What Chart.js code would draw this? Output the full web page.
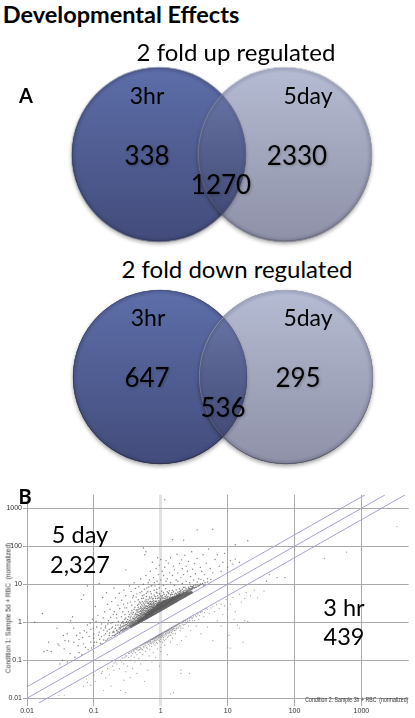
<!DOCTYPE html>
<html>
<head>
<meta charset="utf-8">
<title>Developmental Effects</title>
<script src="https://cdn.jsdelivr.net/npm/chart.js@4"></script>
<style>
  html, body { margin: 0; padding: 0; background: #fff; }
  #page { position: relative; width: 415px; height: 718px; overflow: hidden; font-family: Lato, sans-serif; color: #000; }
  #page canvas { position: absolute; left: 0; }
  .lbl { position: absolute; white-space: nowrap; transform: translate(-50%, -50%); line-height: 1; }
  .num { text-shadow: 1px 1px 3px rgba(0,0,0,.25); }
  .bold { font-weight: 700; }
  #scatterChart { filter: blur(.45px); }
  .axisName { position: absolute; white-space: pre; font: 6.6px "Liberation Sans", sans-serif; color: #333; filter: blur(.3px); }
</style>
</head>
<body>
<div id="page">
  <canvas id="vennUp" width="415" height="189" style="top:60px;width:415px;height:189px"></canvas>
  <canvas id="vennDown" width="415" height="188" style="top:283px;width:415px;height:188px"></canvas>
  <canvas id="scatterChart" width="415" height="238" style="top:480px;width:415px;height:238px"></canvas>
</div>
<script>
/* Venn counts */
const vennSets = ['3hr', '5day'];
const upCounts = [338, 1270, 2330];
const downCounts = [647, 536, 295];
const scatterSides = ['5 day', '3 hr'];
const scatterCounts = ['2,327', '439'];

/* log plot */
const axisTicks = [0.01, 0.1, 1, 10, 100, 1000];
const foldLevels = [2, 1, 0.5];

// sparse spots above the 2 fold line
const upperSparse = [
  [.013,1],[.017,1.7],[.018,.17],[.02,.18],[.021,.3],[.023,.17],[.028,.7],[.029,.27],[.03,.25],[.031,.08],[.034,.1],[.036,.2],[.037,.33],[.04,.09],[.04,.5],[.042,.32],[.045,1.1],[.048,1.4],[.05,.3],[.052,.12],[.055,.45],[.06,.16],[.06,.35],[.062,.52],[.065,4],[.068,.4],[.07,.27],[.07,5.2],[.075,.22],[.078,.55],[.08,.85],[.08,9],[.085,.42],[.09,.3],[.09,.65],[.095,1.2],[.1,.24],[.1,.5],[.1,.38],[.105,2.6],[.11,.75],[.11,.3],[.115,1.5],[.12,.55],[.12,10.5],[.125,.28],[.13,.42],[.13,.9],[.135,4.5],[.14,.62],[.14,.34],[.145,1.9],[.15,.5],[.15,.8],[.155,6],[.16,.36],[.16,3],[.165,1.1],[.17,.45],[.17,.65],[.175,2.2],[.18,.4],[.18,.95],[.185,3.5],[.19,.55],[.19,.75],[.195,1.6],[.2,8],[.21,.48],[.21,4.4],[.22,.6],[.22,1.3],[.23,2.8],[.24,.52],[.24,5.8],[.25,.75],[.26,3.8],[.27,1.9],[.28,7],[.29,2.4],[.3,24],[.3,5],[.32,3.2],[.34,9],[.36,6.5],[.38,4.4],[.4,11],[.42,7.8],[.44,5.6],[.47,8.6],[.5,14],[.52,6.4],[.55,90],[.55,10],[.58,60],[.6,72],[.6,17],[.62,8],[.65,11],[.68,13],[.7,22],[.72,9],[.75,38],[.78,15],[.8,11],[.85,26],[.88,12],[.9,50],[.92,18],[.95,32],[1,13],[1,45],[1.05,22],[1.1,17],[1.15,1680],[1.15,28],[1.2,42],[1.25,14],[1.3,36],[1.35,20],[1.4,50],[1.5,150],[1.5,17],[1.55,30],[1.6,24],[1.7,13],[1.75,62],[1.8,20],[1.9,35],[2,15],[2.05,44],[2.1,26],[2.2,145],[2.2,18],[2.3,58],[2.4,30],[2.5,22],[2.6,40],[2.8,16],[2.9,72],[3,25],[3.2,35],[3.3,19],[3.5,270],[3.5,48],[3.7,14],[3.9,28],[4.1,22],[4.3,60],[4.5,18],[4.8,36],[5,14],[5.2,85],[5.5,26],[6,280],[6,20],[6.5,45],[7,60],[7.5,30],[8,22],[8.5,38],[9,65],[10,28],[11,42],[12,34],[13,110],[13,46],[15,38],[20,140],[38,12],[42,18],[55,15],[72,15],
  [.035,.45],[.044,.15],[.05,.7],[.058,.24],[.066,.14],[.072,.6],[.082,.19],[.088,.95],[.092,.21],[.098,.7],[.102,.3],[.108,1.05],[.118,.46],[.122,.36],[.128,.7],[.132,.27],[.138,1.3],[.142,.46],[.148,.72],[.152,.33],[.158,.58],[.162,.9],[.168,.38],[.172,.52],[.178,1.35],[.182,.7],[.188,.44],[.192,.98],[.198,.58],[.202,1.9],[.206,.44],[.212,.84],[.218,1.6],[.226,.52],[.232,1.05],[.238,.66],[.244,2.3],[.252,.56],[.258,1.4],[.264,.62],[.272,1.05],[.278,3],[.285,.64],[.292,1.6],[.298,.7],[.31,2.4],[.33,1.9],[.35,3.4],[.37,2.8],[.39,5],[.41,3.5],[.43,4.6],[.46,3.9],[.49,6],[.53,5],[.57,7.4],[.61,5.8],[.66,8.4],[.7,6.4],[.74,9.4],[.82,9],[.87,7.4],[.94,10],[1.1,9.4],[1.2,12],[1.4,11],[1.6,9.4],[1.8,12],[2.1,10.5],[2.4,12],[2.7,11],[3.1,13],[3.5,11.5],[4,13.5],[4.4,12.5],[5,11.5],[5.6,13.5]
];

// thicker cloud right above the line
const upperMid = [
  [.2,.45],[.2,.55],[.21,.7],[.22,.5],[.22,.62],[.23,.85],[.24,.55],[.25,.6],[.25,.68],[.26,.95],[.27,.58],[.27,.78],[.28,.62],[.28,.7],[.29,1.2],[.3,.66],[.3,.74],[.3,.88],[.31,.68],[.31,1.05],[.32,.7],[.32,.82],[.33,1.4],[.33,.74],[.34,.76],[.34,.92],[.35,.78],[.35,.86],[.35,1.15],[.36,1.75],[.36,.8],[.37,.84],[.37,.98],[.38,.86],[.38,1.3],[.38,.94],[.39,1.08],[.4,.88],[.4,.96],[.4,1.22],[.4,2.2],[.41,1.02],[.41,1.55],[.42,.92],[.42,1.12],[.43,1],[.43,1.35],[.44,.98],[.44,1.85],[.44,1.08],[.45,1.02],[.45,1.25],[.45,2.8],[.46,1.1],[.46,1.5],[.47,1.05],[.47,1.18],[.47,2.2],[.48,1.08],[.48,1.32],[.48,3.4],[.49,1.16],[.49,1.7],[.5,1.1],[.5,1.24],[.5,1.42],[.5,2.6],[.51,1.14],[.51,1.95],[.52,1.2],[.52,1.55],[.52,4.2],[.53,1.18],[.53,1.3],[.54,1.24],[.54,2.3],[.55,1.22],[.55,1.4],[.55,1.75],[.55,3.2],[.56,1.26],[.56,5.2],[.57,1.3],[.57,1.6],[.58,1.28],[.58,2.05],[.59,1.36],[.6,1.32],[.6,1.5],[.6,2.7],[.6,3.9],[.61,1.4],[.61,1.85],[.62,1.36],[.62,1.62],[.63,2.3],[.63,1.46],[.64,1.44],[.64,6.4],[.65,1.5],[.65,1.75],[.65,3.1],[.66,1.48],[.66,2.05],[.67,1.58],[.68,1.54],[.68,2.6],[.68,4.6],[.69,1.62],[.7,1.58],[.7,1.86],[.7,3.6],[.71,2.25],[.72,1.64],[.72,1.74],[.72,5.6],[.73,2.9],[.74,1.7],[.74,2],[.75,1.78],[.75,2.45],[.75,4.1],[.76,1.76],[.77,1.9],[.78,1.82],[.78,2.2],[.78,3.2],[.8,1.85],[.8,2.02],[.8,2.7],[.8,7],[.82,1.92],[.82,4.8],[.83,2.15],[.84,1.98],[.84,3.6],[.85,2.08],[.85,2.4],[.86,2.02],[.87,3],[.88,2.1],[.88,2.26],[.88,5.8],[.9,2.14],[.9,2.6],[.9,4.2],[.92,2.2],[.92,2.38],[.93,3.3],[.94,2.26],[.95,2.85],[.95,8],[.96,2.3],[.97,2.52],[.98,2.34],[.98,3.8],[1,2.38],[1,2.65],[1,3.1],[1,5],[1.02,2.44],[1.03,6.6],[1.05,2.5],[1.05,2.82],[1.05,4.2],[1.08,2.58],[1.08,3.4],[1.1,2.62],[1.1,3],[1.12,5.4],[1.13,2.72],[1.15,2.78],[1.15,3.7],[1.18,2.84],[1.18,7.6],[1.2,2.92],[1.2,3.25],[1.2,4.6],[1.23,3],[1.25,3.08],[1.25,3.9],[1.28,3.16],[1.3,3.24],[1.3,3.6],[1.3,6],[1.33,3.32],[1.35,3.42],[1.35,4.4],[1.38,3.5],[1.4,3.58],[1.4,3.95],[1.4,5.2],[1.44,3.66],[1.47,3.76],[1.5,3.86],[1.5,4.3],[1.5,7],[1.54,3.96],[1.58,4.06],[1.6,4.16],[1.6,4.8],[1.65,4.26],[1.7,4.38],[1.7,5.6],[1.75,4.5],[1.8,4.62],[1.8,5.1],[1.85,4.74],[1.9,4.86],[1.9,6.4],[1.95,5],[2,5.14],[2,5.7],[2.05,5.28],[2.1,5.4],[2.1,7.4],[2.15,5.54],[2.2,5.68],[2.2,6.2],[2.3,5.9],[2.3,8.4],[2.4,6.1],[2.4,6.8],[2.5,6.4],[2.6,6.6],[2.6,7.6],[2.7,6.8],[2.8,7.1],[2.8,8.8],[2.9,7.3],[3,7.6],[3,8.2],[3.2,8],[3.3,9.6],[3.4,8.4],[3.6,8.8],[3.8,9.4],[4,9.8],[4.2,10.5],[4.6,11],
  [.23,.56],[.24,.72],[.25,.85],[.26,.62],[.26,.75],[.27,.66],[.27,1],[.28,.8],[.28,.92],[.29,.68],[.29,.82],[.3,.98],[.3,1.3],[.31,.76],[.31,.86],[.32,.94],[.32,1.18],[.33,.84],[.33,1.02],[.34,.84],[.34,1.1],[.34,1.6],[.35,.96],[.35,1.32],[.36,.9],[.36,1.05],[.36,1.45],[.37,.92],[.37,1.15],[.37,2],[.38,1.04],[.38,1.62],[.39,.95],[.39,1.26],[.39,1.8],[.4,1.08],[.4,1.4],[.41,.94],[.41,1.2],[.41,2.5],[.42,1.04],[.42,1.3],[.42,1.7],[.43,1.12],[.43,1.58],[.43,2.1],[.44,1.2],[.44,1.42],[.45,1.12],[.45,1.6],[.45,2.1],[.46,1.2],[.46,1.35],[.46,1.85],[.46,2.5],[.47,1.3],[.47,1.52],[.47,3],[.48,1.2],[.48,1.46],[.48,1.9],[.49,1.1],[.49,1.28],[.49,1.5],[.49,2.3],[.5,1.32],[.5,1.62],[.5,2],[.5,3.2],[.51,1.26],[.51,1.4],[.51,1.7],[.51,2.4],[.52,1.34],[.52,1.8],[.52,2.2],[.52,2.9],[.53,1.46],[.53,1.62],[.53,2],[.53,3.5],[.54,1.36],[.54,1.5],[.54,1.85],[.54,2.7],[.55,1.3],[.55,1.58],[.55,2.15],[.55,4.3],[.56,1.46],[.56,1.66],[.56,2],[.56,2.5],[.57,1.4],[.57,1.78],[.57,2.3],[.57,3],[.58,1.5],[.58,1.7],[.58,2.7],[.58,3.6],[.59,1.46],[.59,1.62],[.59,1.9],[.59,2.4],[.6,1.7],[.6,2.1],[.6,3.2],[.61,1.52],[.61,1.64],[.61,2.3],[.61,4.8],[.62,1.76],[.62,2],[.62,2.7],[.62,3.5],[.63,1.58],[.63,1.9],[.63,2.6],[.64,1.66],[.64,1.82],[.64,2.15],[.64,3.2],[.65,1.6],[.65,2],[.65,2.4],[.65,3.9],[.66,1.7],[.66,1.84],[.66,2.8],[.67,1.74],[.67,2.2],[.67,2.5],[.67,3.4],[.68,1.68],[.68,1.9],[.68,2.1],[.68,3],[.69,1.8],[.69,2.35],[.69,4.2],[.7,1.7],[.7,2.05],[.7,2.6],[.7,3.1],[.71,1.82],[.71,1.96],[.71,2.9],[.72,2],[.72,2.4],[.72,3.4],[.73,1.84],[.73,2.15],[.73,2.6],[.73,4.6],[.74,1.9],[.74,2.25],[.74,3.1],[.75,2.05],[.75,2.7],[.75,3.5],[.76,1.96],[.76,2.15],[.76,2.5],[.77,2.1],[.77,2.9],[.77,4.2],[.78,2],[.78,2.5],[.78,3.7],[.79,2.25],[.79,2.7],[.79,3.2],[.8,2.12],[.8,2.4],[.8,3],[.8,5.2],[.82,2.1],[.82,2.35],[.82,2.8],[.82,3.5],[.84,2.2],[.84,2.6],[.84,3.1],[.84,4.2],[.86,2.3],[.86,2.75],[.86,3.6],[.86,6.2],[.88,2.45],[.88,2.9],[.88,3.3],[.9,2.3],[.9,2.8],[.9,3.1],[.9,5],[.92,2.5],[.92,3],[.92,3.7],[.94,2.45],[.94,2.7],[.94,3.3],[.94,4.5],[.96,2.6],[.96,3],[.96,3.5],[.96,5.6],[.98,2.7],[.98,3.2],[.98,4.2],[1,2.5],[1,2.85],[1,3.4],[1,3.9],[1.02,2.7],[1.02,3.1],[1.02,4.6],[1.04,2.6],[1.04,2.95],[1.04,3.6],[1.06,2.75],[1.06,3.2],[1.06,5],[1.08,2.95],[1.08,3.8],[1.08,4.4],[1.1,2.8],[1.1,3.25],[1.1,3.6],[1.1,6],[1.13,3],[1.13,3.5],[1.13,4.2],[1.16,3.1],[1.16,3.4],[1.16,4.8],[1.19,3.1],[1.19,3.6],[1.19,4.2],[1.22,3.2],[1.22,3.8],[1.22,5.2],[1.25,3.4],[1.25,4.4],[1.25,6.4],[1.28,3.5],[1.28,4],[1.28,4.8],[1.32,3.5],[1.32,3.9],[1.32,5.6],[1.35,3.7],[1.35,4.1],[1.35,6.8],[1.38,3.8],[1.38,4.6],[1.42,3.8],[1.42,4.2],[1.42,5.4],[1.46,4],[1.46,4.5],[1.46,6],[1.5,4.05],[1.5,4.7],[1.5,5.4],[1.55,4.2],[1.55,4.5],[1.55,6.4],[1.6,4.4],[1.6,5.2],[1.65,4.5],[1.65,5.8],[1.7,4.7],[1.7,5.1],[1.7,7.2],[1.75,4.8],[1.75,5.4],[1.8,4.9],[1.8,6.2],[1.85,5.1],[1.85,5.6],[1.9,5.2],[1.9,5.7],[1.9,7.6],[1.95,5.4],[1.95,6.6],[2,5.4],[2,6.1],[2,7],[2.1,5.7],[2.1,6.3],[2.2,6],[2.2,6.7],[2.2,8.2],[2.3,6.2],[2.3,7],[2.4,6.4],[2.4,7.6],[2.5,6.7],[2.5,7.1],[2.6,7],[2.6,8.4],[2.7,7.2],[2.7,7.8],[2.8,7.5],[2.9,7.8],[2.9,8.6],[3,8.6],[3.1,8.2],[3.1,9.2],[3.3,8.4],[3.5,9.6],[3.7,9.2],[3.9,10.2],[4.4,9.4]
];

// dark wedge along the line
const upperCore = [
  [.36,.76],[.38,.82],[.4,.86],[.42,.9],[.44,.94],[.46,.98],[.46,1.04],[.48,1.02],[.48,1.1],[.5,1.06],[.5,1.14],[.52,1.1],[.52,1.2],[.54,1.14],[.54,1.24],[.56,1.18],[.56,1.3],[.58,1.22],[.58,1.36],[.6,1.27],[.6,1.42],[.62,1.3],[.62,1.46],[.64,1.35],[.64,1.52],[.66,1.39],[.66,1.58],[.68,1.43],[.68,1.66],[.7,1.47],[.7,1.7],[.72,1.52],[.72,1.76],[.74,1.56],[.74,1.82],[.76,1.6],[.76,1.9],[.78,1.64],[.78,1.94],[.8,1.68],[.8,2],[.83,1.74],[.83,2.06],[.86,1.8],[.86,2.12],[.89,1.87],[.89,2.18],[.92,1.93],[.92,2.25],[.95,2],[.95,2.3],[.98,2.06],[.98,2.36],[1.01,2.12],[1.01,2.42],[1.05,2.2],[1.05,2.5],[1.09,2.29],[1.09,2.58],[1.13,2.37],[1.13,2.66],[1.17,2.46],[1.17,2.74],[1.21,2.54],[1.21,2.82],[1.26,2.65],[1.26,2.92],[1.31,2.75],[1.31,3],[1.36,2.86],[1.36,3.1],[1.42,2.98],[1.42,3.22],[1.48,3.1],[1.48,3.34],[1.54,3.24],[1.54,3.46],[1.6,3.36],[1.6,3.58],[1.68,3.53],[1.68,3.72],[1.76,3.7],[1.76,3.9],[1.85,3.9],[1.94,4.08],[2.03,4.28],[2.13,4.48],[2.24,4.7],[2.35,4.95],[2.47,5.2],[2.6,5.46],[2.75,5.78],[2.9,6.1],
  [.6,1.6],[.66,1.72],[.66,1.85],[.72,1.9],[.72,2.08],[.78,2.1],[.78,2.3],[.84,2.3],[.84,2.5],[.9,2.4],[.9,2.65],[.9,2.85],[.96,2.55],[.96,2.8],[.96,3.05],[1.02,2.65],[1.02,2.9],[1.02,3.2],[1.08,2.85],[1.08,3.1],[1.08,3.4],[1.14,3],[1.14,3.3],[1.14,3.6],[1.2,3.1],[1.2,3.4],[1.2,3.75],[1.28,3.25],[1.28,3.55],[1.28,3.9],[1.36,3.4],[1.36,3.7],[1.36,4.05],[1.44,3.55],[1.44,3.85],[1.44,4.2],[1.52,3.75],[1.52,4],[1.52,4.35],[1.6,3.9],[1.6,4.2],[1.6,4.5],[1.7,4.05],[1.7,4.4],[1.7,4.7],[1.8,4.3],[1.8,4.6],[1.8,4.95],[1.9,4.4],[1.9,4.8],[1.9,5.1],[2,4.6],[2,5],[2.15,4.9],[2.15,5.3],[2.3,5.2],[2.3,5.6],[2.45,5.5],[2.45,5.9],[2.6,5.85],[2.8,6.2]
];

// cloud below the 2 fold line, plus the few far right spots
const lowerPoints = [
  [.03,.012],[.036,.012],[.07,.021],[.078,.032],[.08,.026],[.09,.022],[.1,.04],[.105,.028],[.13,.045],[.135,.05],[.14,.016],[.15,.034],[.16,.06],[.17,.042],[.18,.021],[.19,.07],[.2,.085],[.2,.055],[.21,.09],[.22,.08],[.23,.1],[.24,.06],[.25,.1],[.25,.016],[.26,.09],[.27,.115],[.28,.08],[.28,.03],[.29,.12],[.3,.014],[.3,.05],[.3,.1],[.31,.13],[.32,.07],[.33,.12],[.34,.155],[.35,.1],[.35,.035],[.36,.13],[.37,.17],[.38,.06],[.38,.15],[.39,.18],[.4,.12],[.4,.19],[.41,.09],[.42,.16],[.43,.2],[.44,.14],[.44,.045],[.45,.21],[.46,.18],[.47,.11],[.48,.22],[.49,.16],[.5,.24],[.5,.2],[.5,.08],[.52,.25],[.53,.19],[.54,.14],[.55,.26],[.56,.22],[.57,.028],[.58,.28],[.59,.17],[.6,.29],[.6,.24],[.6,.1],[.62,.3],[.63,.21],[.64,.055],[.65,.31],[.66,.26],[.67,.13],[.68,.32],[.69,.19],[.7,.34],[.7,.28],[.72,.35],[.73,.23],[.74,.09],[.75,.36],[.76,.3],[.77,.16],[.78,.38],[.8,.39],[.8,.33],[.82,.25],[.83,.4],[.84,.12],[.85,.41],[.86,.34],[.88,.43],[.89,.28],[.9,.44],[.9,.2],[.92,.38],[.94,.46],[.95,.32],[.96,.07],[.98,.48],[1,.42],[1,.36],[1,.22],[1,.17],[1.03,.5],[1.05,.45],[1.06,.3],[1.08,.52],[1.1,.4],[1.12,.54],[1.14,.25],[1.16,.47],[1.18,.56],[1.2,.36],[1.22,.58],[1.24,.5],[1.26,.14],[1.28,.6],[1.3,.43],[1.32,.62],[1.35,.54],[1.38,.65],[1.4,.3],[1.4,.013],[1.42,.46],[1.45,.7],[1.48,.58],[1.5,.72],[1.5,.38],[1.55,.014],[1.55,.75],[1.58,.62],[1.62,.78],[1.66,.5],[1.7,.82],[1.72,.68],[1.76,.26],[1.8,.86],[1.85,.75],[1.9,.92],[1.95,.6],[2,.045],[2,.96],[2,.055],[2,.8],[2.05,.33],[2.1,1],[2.15,.7],[2.2,1.05],[2.3,.88],[2.35,1.1],[2.4,.42],[2.5,1.15],[2.6,1],[2.7,.045],[2.7,1.25],[2.8,.6],[2.9,1.3],[3,1.1],[3.1,1.45],[3.3,1.5],[3.4,.8],[3.5,1.6],[3.7,1.2],[3.9,1.8],[4,.5],[4.2,1.9],[4.4,1.4],[4.6,2.1],[5,2.2],[5,.75],[5.3,1.7],[5.6,2.4],[6,.33],[6,2.6],[6.4,1.9],[6.8,2.9],[7,1.1],[7.5,2.3],[8,3],[8,.8],[8.5,1.6],[9,2.7],[9.5,4],[10,.22],[10,2.2],[10.5,.45],[11,3],[11,.21],[12,4.5],[12.5,1.2],[13,1.9],[14,.85],[15,5.5],[15,.7],[16,3.4],[17,.3],[18,1.1],[18,4.2],[19,6],[20,1.05],[22,5],[25,7],[28,4.4],[35,6.6],[280,48],[600,70],[3400,330],
  [.3,.13],[.33,.15],[.36,.16],[.4,.17],[.42,.2],[.44,.19],[.46,.22],[.48,.19],[.5,.22],[.52,.2],[.54,.26],[.55,.23],[.57,.27],[.58,.24],[.6,.27],[.61,.22],[.63,.3],[.64,.27],[.66,.32],[.67,.29],[.68,.24],[.7,.31],[.71,.34],[.72,.3],[.73,.27],[.74,.36],[.76,.35],[.77,.32],[.78,.27],[.79,.37],[.8,.36],[.81,.3],[.83,.37],[.84,.33],[.85,.38],[.86,.29],[.87,.42],[.88,.39],[.89,.35],[.9,.41],[.92,.45],[.93,.41],[.94,.34],[.95,.43],[.96,.47],[.97,.39],[.98,.44],[.99,.31],[1,.48],[1.02,.4],[1.03,.46],[1.05,.5],[1.06,.42],[1.08,.47],[1.09,.36],[1.1,.52],[1.12,.46],[1.13,.33],[1.15,.55],[1.16,.42],[1.18,.5],[1.2,.57],[1.21,.46],[1.23,.53],[1.25,.6],[1.26,.4],[1.28,.55],[1.3,.62],[1.32,.5],[1.34,.57],[1.36,.66],[1.38,.45],[1.4,.6],[1.42,.68],[1.44,.54],[1.46,.62],[1.48,.72],[1.5,.65],[1.52,.5],[1.55,.68],[1.58,.78],[1.6,.6],[1.62,.7],[1.65,.8],[1.68,.62],[1.7,.76],[1.75,.85],[1.8,.7],[1.85,.9],[1.9,.8],[1.95,.96],[2,.7],[2.1,.9],[2.2,.85],[2.3,1.1],[2.4,.95],[2.5,1.05],[2.6,.8],[2.7,1.1],[2.8,1.35],[3,1.3],[3.2,1.1],[3.4,1.4],[3.6,1.7],[3.8,1.5],[4,1.9],[4.5,1.8],[4.8,2.3]
];

const venn = [
  { id: 'vennUp', left: 158.8, step: 125.9 },
  { id: 'vennDown', left: 160, step: 126 }
];

// shaded disc used as the point style of the venn bubbles
function makeDisc(r, top, bottom, rimTop, rimBottom, bevel, alpha) {
  const pad = 8;
  const c = document.createElement('canvas');
  c.width = c.height = (r + pad) * 2;
  const ctx = c.getContext('2d');
  const m = r + pad;

  // drop shadow only outside the disc, otherwise it shows through
  ctx.save();
  ctx.beginPath();
  ctx.rect(0, 0, c.width, c.height);
  ctx.arc(m, m, r, 0, Math.PI * 2, true);
  ctx.clip('evenodd');
  ctx.shadowColor = 'rgba(0,0,0,.4)';
  ctx.shadowBlur = 4;
  ctx.shadowOffsetY = 2;
  ctx.fillStyle = '#000';
  ctx.beginPath();
  ctx.arc(m, m, r, 0, Math.PI * 2);
  ctx.fill();
  ctx.restore();

  ctx.save();
  ctx.globalAlpha = alpha;
  const g = ctx.createLinearGradient(0, m - r, 0, m + r);
  g.addColorStop(0, top);
  g.addColorStop(1, bottom);
  ctx.fillStyle = g;
  ctx.beginPath();
  ctx.arc(m, m, r, 0, Math.PI * 2);
  ctx.fill();
  ctx.restore();

  // bevel
  const b = ctx.createRadialGradient(m, m, r - 5, m, m, r);
  b.addColorStop(0, 'rgba(40,45,80,0)');
  b.addColorStop(1, 'rgba(40,45,80,' + bevel + ')');
  ctx.fillStyle = b;
  ctx.beginPath();
  ctx.arc(m, m, r, 0, Math.PI * 2);
  ctx.fill();

  const s = ctx.createLinearGradient(0, m - r, 0, m + r);
  s.addColorStop(0, rimTop);
  s.addColorStop(1, rimBottom);
  ctx.strokeStyle = s;
  ctx.lineWidth = 1;
  ctx.beginPath();
  ctx.arc(m, m, r - .3, 0, Math.PI * 2);
  ctx.stroke();
  return c;
}

const discs = [
  makeDisc(87, '#5d6ea9', '#434c7b', 'rgba(60,72,120,.8)', 'rgba(40,45,75,.9)', .28, 1),
  makeDisc(87, '#7c87b0', '#363b62', 'rgba(170,175,200,.9)', 'rgba(80,82,100,.85)', .2, .56)
];

venn.forEach(v => {
  new Chart(document.getElementById(v.id), {
    type: 'scatter',
    data: {
      labels: vennSets,
      datasets: [{
        data: vennSets.map((s, i) => ({ x: i, y: 0 })),
        pointStyle: discs,
        pointRadius: 87,
        clip: false
      }]
    },
    options: {
      responsive: false,
      animation: false,
      layout: { autoPadding: false },
      plugins: { legend: { display: false }, tooltip: { enabled: false } },
      scales: {
        x: { display: false, min: -v.left / v.step, max: (415 - v.left) / v.step },
        y: { display: false, min: -1, max: 1 }
      }
    }
  });
});

function logAxis(extra) {
  return Object.assign({
    type: 'logarithmic',
    afterBuildTicks: s => { s.ticks = axisTicks.map(value => ({ value })); },
    border: { display: false },
    ticks: {
      autoSkip: false, maxRotation: 0, padding: 1,
      color: '#333',
      font: { family: 'Liberation Sans', size: 7 },
      callback: v => String(v)
    }
  }, extra);
}

new Chart(document.getElementById('scatterChart'), {
  type: 'scatter',
  data: {
    datasets: [
      { data: upperSparse.map(toXY), pointRadius: .7, backgroundColor: 'rgba(95,95,95,.8)' },
      { data: upperMid.map(toXY), pointRadius: .75, backgroundColor: 'rgba(90,90,90,.75)' },
      { data: upperCore.map(toXY), pointRadius: 1.3, backgroundColor: 'rgba(100,100,100,.85)' },
      { data: lowerPoints.map(toXY), pointRadius: .62, backgroundColor: 'rgba(120,120,120,.7)' }
    ].map(d => Object.assign(d, { borderWidth: 0 })).concat(foldLevels.map(f => ({
      type: 'line',
      data: foldEnds(f),
      borderColor: '#a3a3cf',
      borderWidth: 1,
      pointRadius: 0,
      fill: false
    })))
  },
  options: {
    responsive: false,
    animation: false,
    layout: { autoPadding: false, padding: { top: 14.7, right: 6.3, left: 0, bottom: 0 } },
    plugins: { legend: { display: false }, tooltip: { enabled: false } },
    scales: {
      x: logAxis({
        min: .01, max: 5100,
        afterFit: s => { s.height = 15; },
        grid: {
          color: c => c.tick?.value === 1 ? '#e2e2e2' : '#a9a9a9',
          lineWidth: c => c.tick?.value === 1 ? 3 : 1,
          tickLength: 3
        }
      }),
      y: logAxis({
        min: .0075, max: 2280,
        afterFit: s => { s.width = 27; },
        grid: { color: '#a9a9a9', lineWidth: 1, tickLength: 4 }
      })
    }
  }
});

function toXY(p) { return { x: p[0], y: p[1] }; }

// fold lines run corner to corner of the plot
function foldEnds(f) {
  const xMin = .01, yMin = .0075, yMax = 2280;
  return [
    { x: Math.max(xMin, yMin / f), y: Math.max(yMin, xMin * f) },
    { x: yMax / f, y: yMax }
  ];
}

/* text */
const page = document.getElementById('page');
function label(text, x, y, size, cls) {
  const d = document.createElement('div');
  d.className = 'lbl ' + (cls || '');
  d.textContent = text;
  d.style.left = x + 'px';
  d.style.top = y + 'px';
  d.style.fontSize = size + 'px';
  page.appendChild(d);
}

label('Developmental Effects', 121, 15, 23.5, 'bold');
label('2 fold up regulated', 236, 52, 24);
label('A', 26, 95, 20, 'bold');
label(vennSets[0], 147, 95, 23);
label(vennSets[1], 308, 95, 23);
label(upCounts[0], 147, 155, 26, 'num');
label(upCounts[2], 297, 155, 26, 'num');
label(upCounts[1], 221, 184, 26, 'num');

label('2 fold down regulated', 237, 269, 24);
label(vennSets[0], 148, 317, 23);
label(vennSets[1], 308, 317, 23);
label(downCounts[0], 147, 377, 26, 'num');
label(downCounts[2], 298, 377, 26, 'num');
label(downCounts[1], 223, 407, 26, 'num');

label('B', 25, 496, 20, 'bold');
label(scatterSides[0], 80, 535, 23.5);
label(scatterCounts[0], 80, 565, 23.5);
label(scatterSides[1], 344, 608, 23.5);
label(scatterCounts[1], 344, 637, 23.5);

const xName = document.createElement('div');
xName.className = 'axisName';
xName.textContent = 'Condition 2: Sample 3h + RBC  (normalized)';
xName.style.right = '7px';
xName.style.top = '696px';
xName.style.transform = 'scaleX(.79)';
xName.style.transformOrigin = 'right center';
page.appendChild(xName);

const yName = document.createElement('div');
yName.className = 'axisName';
yName.textContent = 'Condition 1: Sample 5d + RBC  (normalized)';
yName.style.left = '8px';
yName.style.top = '608px';
yName.style.transform = 'translate(-50%, -50%) rotate(-90deg)';
page.appendChild(yName);
</script>
</body>
</html>
